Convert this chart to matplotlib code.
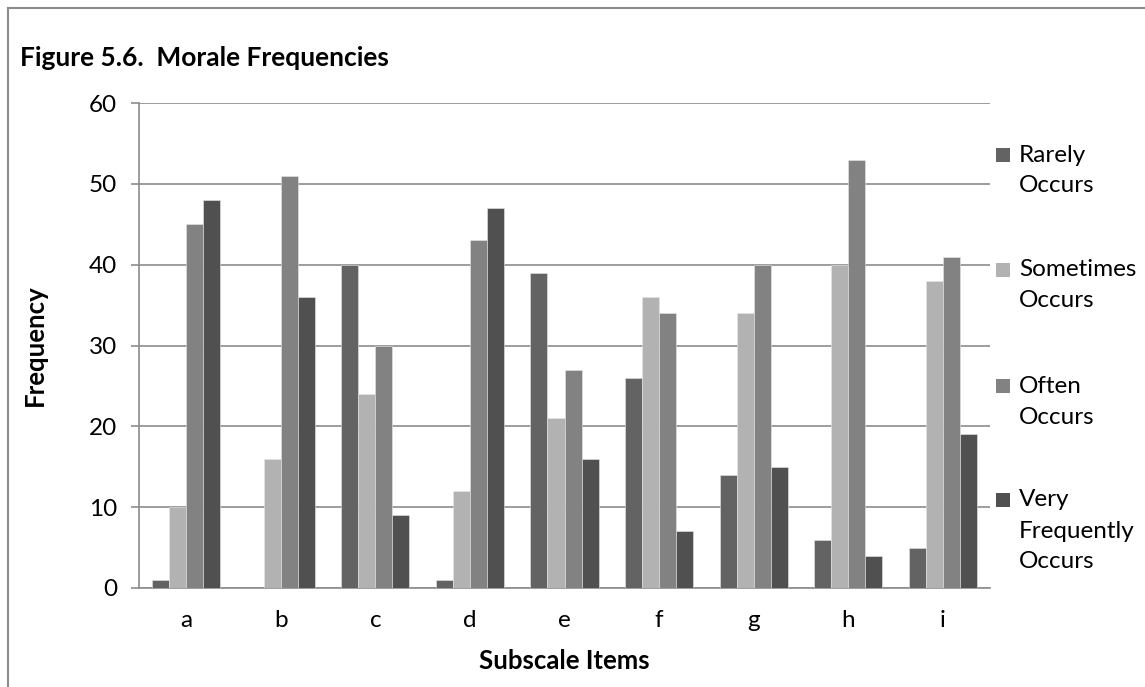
import numpy as np
import matplotlib.pyplot as plt
from matplotlib.lines import Line2D
from matplotlib.patches import Rectangle

plt.rcParams['font.family'] = ['Lato', 'DejaVu Sans']

# data
items = ['a', 'b', 'c', 'd', 'e', 'f', 'g', 'h', 'i']
rarely = [1, 0, 40, 1, 39, 26, 14, 6, 5]
sometimes = [10, 16, 24, 12, 21, 36, 34, 40, 38]
often = [45, 51, 30, 43, 27, 34, 40, 53, 41]
very = [48, 36, 9, 47, 16, 7, 15, 4, 19]
series_names = ['Rarely\nOccurs', 'Sometimes\nOccurs', 'Often\nOccurs', 'Very\nFrequently\nOccurs']
colors = ['#636363', '#b2b2b2', '#828282', '#505050']
yticks = [0, 10, 20, 30, 40, 50, 60]

W, H = 1145, 687
fig = plt.figure(figsize=(W / 100, H / 100), dpi=100)
ax = fig.add_axes([139 / W, 1 - 588 / H, (990 - 139) / W, (588 - 103) / H])

x = np.arange(len(items))
bw = 0.18
for k, (vals, c) in enumerate(zip([rarely, sometimes, often, very], colors)):
    ax.bar(x + (k - 1.5) * bw, vals, width=bw, color=c,
           edgecolor='#e6e6e6', linewidth=0.4, zorder=3)

ax.set_xlim(-0.5, len(items) - 0.5)
ax.set_ylim(0, 60)
ax.set_yticks(yticks)
ax.set_xticks(x)
ax.set_xticklabels(items)
ax.tick_params(axis='y', length=5.8, width=1.2, color='#8c8c8c', labelsize=17.5, pad=10)
ax.tick_params(axis='x', length=0, labelsize=17.5, pad=16)
ax.grid(axis='y', color='#8c8c8c', linewidth=1.2, zorder=0)
for s in ['top', 'right']:
    ax.spines[s].set_visible(False)
for s in ['left', 'bottom']:
    ax.spines[s].set_color('#8c8c8c')
    ax.spines[s].set_linewidth(1.2)

ax.set_ylabel('Frequency', fontsize=18.5, fontweight='bold', labelpad=30)
ax.set_xlabel('Subscale Items', fontsize=18.5, fontweight='bold', labelpad=13)

fig.text(20 / W, 1 - 58 / H, 'Figure 5.6.  Morale Frequencies', fontsize=19,
         fontweight='bold', va='center', ha='left')

# legend: square marker next to the first line of each (wrapped) label
legend_top = [155, 270, 386, 500]
line_step = 31
for name, c, y0 in zip(series_names, colors, legend_top):
    fig.add_artist(Rectangle((996 / W, 1 - (y0 + 7) / H), 14 / W, 14 / H,
                             facecolor=c, edgecolor='none'))
    for i, line in enumerate(name.split('\n')):
        fig.text(1019 / W, 1 - (y0 + i * line_step) / H, line, fontsize=17.5,
                 va='center', ha='left')

# outer chart border (top and left edges visible in the crop)
fig.add_artist(Line2D([8 / W, 8 / W], [0, 1 - 8 / H], color='#8c8c8c', lw=1.5))
fig.add_artist(Line2D([8 / W, 1], [1 - 8 / H, 1 - 8 / H], color='#8c8c8c', lw=1.5))

fig.savefig('out.png', dpi=100)
